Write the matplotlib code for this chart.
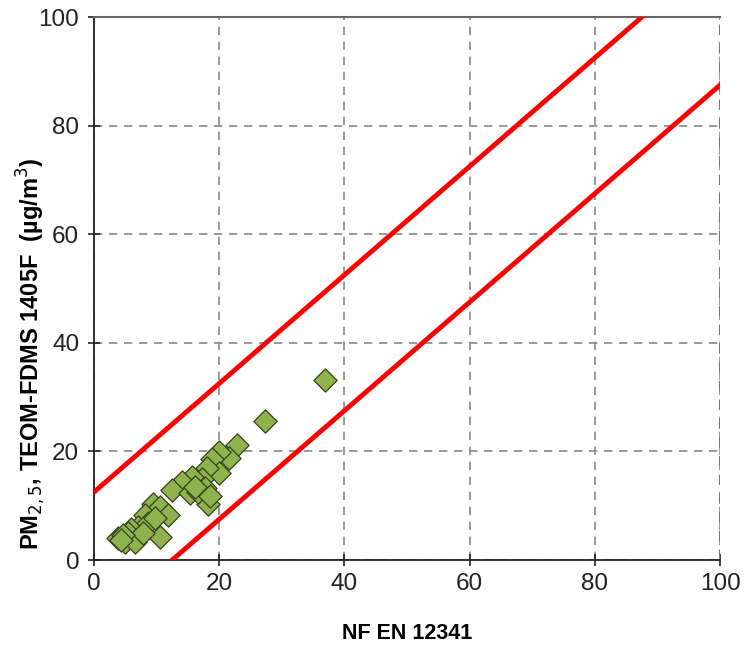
import matplotlib
matplotlib.use('Agg')
import matplotlib.pyplot as plt
import numpy as np

# reference method (NF EN 12341) vs TEOM-FDMS values, µg/m3
ref_x = [36.9, 27.3, 22.9, 21.5, 20.0, 18.8, 19.9, 18.0, 17.2, 15.6, 17.7, 18.3,
         14.0, 12.4, 15.3, 16.7, 9.5, 10.5, 11.9, 10.5, 8.1, 7.1, 8.7, 6.0,
         5.0, 3.9, 5.5, 6.5, 7.9, 9.7, 16.1, 18.5, 4.7, 4.4]
teom_y = [33.1, 25.6, 21.2, 18.8, 19.9, 18.6, 16.1, 16.9, 15.0, 15.3, 13.2, 10.4,
          14.4, 12.9, 12.4, 12.6, 10.4, 9.8, 8.3, 4.3, 8.3, 6.1, 6.8, 5.8,
          3.4, 4.0, 4.9, 3.4, 4.9, 7.7, 13.5, 11.7, 4.6, 3.6]

# acceptance band: y = x +/- 12.5
band = 12.5
line_x = [0, 100]

plt.rcParams['font.family'] = ['Liberation Sans', 'DejaVu Sans']

fig = plt.figure(figsize=(7.51, 6.55), dpi=100)
ax = fig.add_axes([0.125, 0.145, 0.834, 0.829])

ax.plot(line_x, [v + band for v in line_x], color='#ff0000', lw=3.5, zorder=3)
ax.plot(line_x, [v - band for v in line_x], color='#ff0000', lw=3.5, zorder=3)

ax.scatter(ref_x, teom_y, marker='D', s=140, facecolor='#8fb24e',
           edgecolor='#34431a', linewidth=0.9, zorder=4)

ax.set_xlim(0, 100)
ax.set_ylim(0, 100)
ticks = [0, 20, 40, 60, 80, 100]
ax.set_xticks(ticks)
ax.set_yticks(ticks)
ax.tick_params(direction='inout', length=9, width=1.2, labelsize=17.5,
               colors='#222222')
ax.tick_params(axis='x', pad=5)
ax.tick_params(axis='y', pad=6)

ax.grid(True, linestyle=(0, (5, 4)), color='#888888', linewidth=1.2)
ax.set_axisbelow(True)
ax.axvline(100, linestyle=(0, (5, 4)), color='#777777', linewidth=1.5, zorder=1)

ax.spines['right'].set_visible(False)
ax.spines['top'].set_color('#666666')
ax.spines['top'].set_linewidth(1.5)
ax.spines['left'].set_linewidth(1.3)
ax.spines['bottom'].set_linewidth(1.3)
ax.spines['left'].set_color('#222222')
ax.spines['bottom'].set_color('#222222')

ax.set_xlabel('NF EN 12341', fontsize=15.5, fontweight='bold', labelpad=20)
ax.set_ylabel(r'PM$_{2,5}$, TEOM-FDMS 1405F  (µg/m$^{3}$)', fontsize=17,
              fontweight='bold')
ax.yaxis.set_label_coords(-0.073, 0.38)

plt.savefig('out.png', dpi=100)
